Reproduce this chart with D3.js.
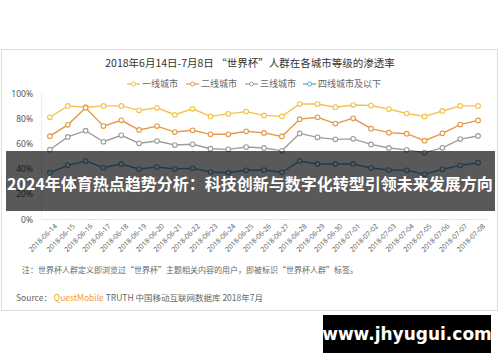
<!DOCTYPE html>
<html>
<head>
<meta charset="utf-8">
<script src="https://cdn.jsdelivr.net/npm/d3@7"></script>
<style>
  body { margin: 0; background: #fff; }
  svg { display: block; font-family: "Noto Sans CJK SC", "Noto Sans", sans-serif; }
</style>
</head>
<body>
<div id="chart"></div>
<script>
const dates = ['2018-06-14','2018-06-15','2018-06-16','2018-06-17','2018-06-18','2018-06-19','2018-06-20',
  '2018-06-21','2018-06-22','2018-06-23','2018-06-24','2018-06-25','2018-06-26','2018-06-27','2018-06-28',
  '2018-06-29','2018-06-30','2018-07-01','2018-07-02','2018-07-03','2018-07-04','2018-07-05','2018-07-06',
  '2018-07-07','2018-07-08'];
const seriesNames = ['一线城市', '二线城市', '三线城市', '四线城市及以下'];
const tier1 = [81, 90, 89, 90, 90, 86.5, 88.5, 83, 87.7, 81.7, 83.7, 85.5, 82.5, 81.7, 91.5, 91.5, 89, 90.7, 90.3, 87.5, 84, 81.7, 86, 90, 90];
const tier2 = [66, 75, 88.6, 74, 78.6, 71, 74, 69.3, 70.7, 67.5, 67.5, 69.9, 68.6, 65.8, 79.5, 81, 76, 80.2, 72, 68.8, 68, 62.5, 68.3, 75.2, 78.5];
const tier3 = [55.3, 65.4, 70.4, 61.6, 66.7, 60.4, 62.2, 59, 59.6, 56.1, 55.6, 57.4, 56.7, 54.4, 68.2, 65.1, 63.5, 63.9, 59.5, 56.7, 55.2, 53, 56.8, 63.7, 66.2];
const tier4 = [37.1, 42.9, 46.4, 41, 44, 40, 41.6, 40, 40.6, 37.6, 37.1, 39, 39.2, 37.4, 46.4, 44, 44, 44, 40.8, 39.2, 39, 35.8, 39.8, 42.9, 45];
const yTicks = [0, 20, 40, 60, 80, 100];
const colors = ['#f2c24b', '#e49a4a', '#9d9d9d', '#5aa9d8'];

const series = [tier1, tier2, tier3, tier4].map((vals, i) => ({ name: seriesNames[i], color: colors[i], values: vals }));

const width = 500, height = 362;
const svg = d3.select('#chart').append('svg').attr('width', width).attr('height', height);

// card
svg.append('rect').attr('x', 1.5).attr('y', 49.5).attr('width', 496).attr('height', 261)
  .attr('fill', '#fff').attr('stroke', '#dcdcdc');

svg.append('text').attr('x', 250).attr('y', 67).attr('text-anchor', 'middle')
  .attr('font-size', 10.5).attr('fill', '#333')
  .text('2018年6月14日-7月8日 “世界杯”人群在各城市等级的渗透率');

// legend
const legendX = [127, 186, 245, 303];
const legend = svg.append('g').selectAll('g').data(series).join('g')
  .attr('transform', (d, i) => `translate(${legendX[i]},84)`);
legend.append('line').attr('x1', 0).attr('x2', 13).attr('stroke', d => d.color).attr('stroke-width', 1.3);
legend.append('circle').attr('cx', 6.5).attr('r', 2).attr('fill', '#fff').attr('stroke', d => d.color).attr('stroke-width', 1);
legend.append('text').attr('x', 15).attr('y', 3).attr('font-size', 9).attr('fill', '#666').text(d => d.name);

const x = d3.scaleBand().domain(dates).range([41, 487]);
const y = d3.scaleLinear().domain([0, 100]).range([219.5, 93.3]);
const cx = d => x(d) + x.bandwidth() / 2;

// frame
svg.append('line').attr('x1', 41.5).attr('x2', 41.5).attr('y1', 93).attr('y2', 219.5).attr('stroke', '#eee');
svg.append('line').attr('x1', 41).attr('x2', 487).attr('y1', 219.5).attr('y2', 219.5).attr('stroke', '#e6e6e6');

const yAxis = svg.append('g').attr('transform', 'translate(36,0)')
  .call(d3.axisLeft(y).tickValues(yTicks).tickSize(0).tickFormat(d => d + '%'));
yAxis.select('.domain').remove();
yAxis.selectAll('text').attr('font-size', 8.5).attr('fill', '#555').attr('font-family', '"Noto Sans", sans-serif');

const xAxis = svg.append('g').attr('transform', 'translate(0,222)')
  .call(d3.axisBottom(x).tickSize(0));
xAxis.select('.domain').remove();
xAxis.selectAll('text').attr('font-size', 7).attr('fill', '#666').attr('font-family', '"Noto Sans", sans-serif')
  .attr('text-anchor', 'end').attr('transform', 'translate(3,0) rotate(-45)').attr('dy', '0.5em').attr('dx', '0');

const line = d3.line().x((v, i) => cx(dates[i])).y(v => y(v));
const g = svg.append('g').selectAll('g').data(series).join('g');
g.append('path').attr('d', d => line(d.values)).attr('fill', 'none').attr('stroke', d => d.color).attr('stroke-width', 1.4);
g.selectAll('circle').data(d => d.values.map(v => ({ v, c: d.color }))).join('circle')
  .attr('cx', (d, i) => cx(dates[i])).attr('cy', d => y(d.v)).attr('r', 2.3)
  .attr('fill', '#fff').attr('stroke', d => d.c).attr('stroke-width', 1.1);

// notes
svg.append('text').attr('x', 22).attr('y', 273).attr('font-size', 8).attr('fill', '#666')
  .text('注：世界杯人群定义即浏览过“世界杯”主题相关内容的用户，即被标识“世界杯人群”标签。');
const src = svg.append('text').attr('x', 16).attr('y', 301).attr('font-size', 8.5).attr('fill', '#666');
src.append('tspan').text('Source： ');
src.append('tspan').attr('fill', '#f0a030').text('QuestMobile');
src.append('tspan').text(' TRUTH 中国移动互联网数据库 2018年7月');

// banner overlay
svg.append('rect').attr('x', 6).attr('y', 151).attr('width', 489).attr('height', 60).attr('fill', 'rgba(0,0,0,0.65)');
svg.append('text').attr('x', 250).attr('y', 190).attr('text-anchor', 'middle')
  .attr('font-size', 16).attr('font-weight', 'bold').attr('fill', '#fff')
  .text('2024年体育热点趋势分析：科技创新与数字化转型引领未来发展方向');

// watermark
svg.append('rect').attr('x', 323).attr('y', 315).attr('width', 168).attr('height', 38).attr('fill', '#000');
svg.append('text').attr('x', 407).attr('y', 340).attr('text-anchor', 'middle')
  .attr('font-size', 17).attr('font-weight', 'bold').attr('fill', '#fff').attr('font-family', '"DejaVu Sans", sans-serif')
  .text('www.jhyugui.com');
</script>
</body>
</html>
